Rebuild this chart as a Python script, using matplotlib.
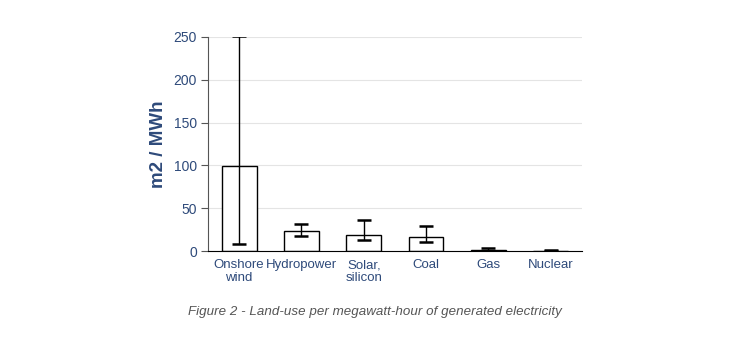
import numpy as np
import matplotlib
matplotlib.use('Agg')
import matplotlib.pyplot as plt

plt.rcParams['font.family'] = ['Liberation Sans', 'DejaVu Sans']

# Land-use per MWh (m2 / MWh)
categories = ['Onshore\nwind', 'Hydropower', 'Solar,\nsilicon', 'Coal', 'Gas', 'Nuclear']
values = [99, 23, 19, 16, 1, 0.5]
err_low = [8, 17, 13, 11, 0.5, 0.3]
err_high = [251, 32, 36, 29, 4, 1.2]

text_color = '#2e4a7a'

fig = plt.figure(figsize=(7.43, 3.64), dpi=100)
ax = fig.add_axes([0.28, 0.3104, 0.503, 0.588])

x = np.arange(len(categories))
vals = np.array(values)
yerr = [vals - np.array(err_low), np.array(err_high) - vals]
ax.bar(x, vals, width=0.56, color='white', edgecolor='black', linewidth=1.0, zorder=2)
ax.errorbar(x, vals, yerr=yerr, fmt='none', ecolor='black', elinewidth=1.0,
            capsize=5, capthick=1.8, zorder=3)

ax.set_xlim(-0.5, len(categories) - 0.5)
ax.set_ylim(0, 250)
ax.set_yticks(np.arange(0, 251, 50))
ax.set_xticks(x)
ax.set_xticklabels(categories, fontsize=9.5, color=text_color, linespacing=1.05)
ax.tick_params(axis='y', labelsize=10, labelcolor=text_color, length=5, color='#555555', pad=3)
ax.tick_params(axis='x', length=0, pad=6)
ax.yaxis.grid(True, color='#e4e4e4', linewidth=0.8, zorder=0)
ax.set_axisbelow(True)

for side in ['top', 'right']:
    ax.spines[side].set_visible(False)
ax.spines['left'].set_color('#555555')
ax.spines['bottom'].set_color('black')

ax.set_ylabel('m2 / MWh', fontsize=13.5, fontweight='bold', color=text_color, labelpad=5)

fig.text(0.504, 0.142, 'Figure 2 - Land-use per megawatt-hour of generated electricity',
         ha='center', va='center', fontsize=9.6, style='italic', color='#555555')

fig.savefig('out.png', dpi=100)
